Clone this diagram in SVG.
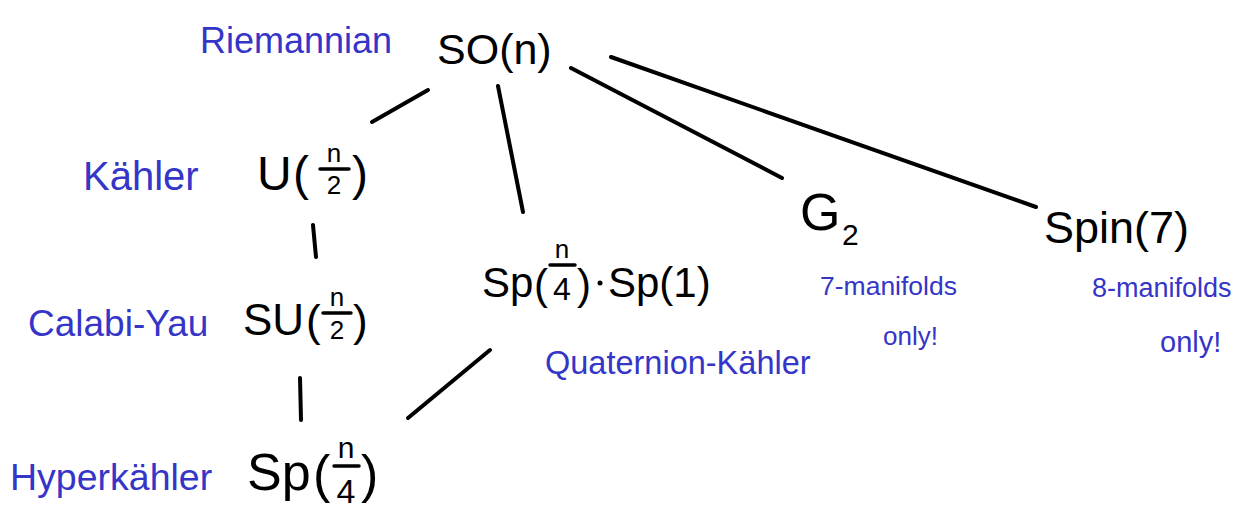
<svg xmlns="http://www.w3.org/2000/svg" width="1244" height="525" viewBox="0 0 1244 525">
<style>
.b{font-family:"Liberation Sans",Arial,sans-serif;fill:#3535c8;}
.k{font-family:"Liberation Sans",Arial,sans-serif;fill:#000;}
.e{stroke:#000;stroke-width:4;stroke-linecap:round;fill:none;}
.bar{stroke:#000;stroke-width:3.5;stroke-linecap:round;}
</style>
<rect width="1244" height="525" fill="#fff"/>
<g id="connectors">
<line class="e" x1="372" y1="122" x2="428" y2="90"/>
<line class="e" x1="498" y1="86" x2="523" y2="212"/>
<line class="e" x1="571" y1="68" x2="782" y2="178"/>
<line class="e" x1="611" y1="57" x2="1036" y2="207"/>
<line class="e" x1="313" y1="225" x2="316" y2="257"/>
<line class="e" x1="300" y1="378" x2="301" y2="420"/>
<line class="e" x1="408" y1="418" x2="490" y2="350"/>
</g>
<g id="so">
<text class="b" x="200" y="53" font-size="36">Riemannian</text>
<text class="k" x="437" y="64" font-size="43">SO(n)</text>
</g>
<g id="u">
<text class="b" x="83" y="190" font-size="40">Kähler</text>
<text class="k" x="257" y="190" font-size="48">U</text>
<text class="k" x="293" y="190" font-size="48">(</text>
<text class="k" x="334" y="162" font-size="26" text-anchor="middle">n</text>
<line class="bar" x1="320" y1="169" x2="349" y2="169"/>
<text class="k" x="334" y="194" font-size="26" text-anchor="middle">2</text>
<text class="k" x="352" y="190" font-size="48">)</text>
</g>
<g id="su">
<text class="b" x="28" y="336" font-size="37">Calabi-Yau</text>
<text class="k" x="243" y="335" font-size="44">SU</text>
<text class="k" x="306" y="336" font-size="44">(</text>
<text class="k" x="337" y="306" font-size="26" text-anchor="middle">n</text>
<line class="bar" x1="323" y1="313" x2="351" y2="313"/>
<text class="k" x="337" y="339" font-size="26" text-anchor="middle">2</text>
<text class="k" x="353" y="336" font-size="44">)</text>
</g>
<g id="sp">
<text class="b" x="10" y="490" font-size="37.5">Hyperkähler</text>
<text class="k" x="247" y="490" font-size="52">Sp</text>
<text class="k" x="313" y="492" font-size="52">(</text>
<text class="k" x="346" y="458" font-size="30" text-anchor="middle">n</text>
<line class="bar" x1="334" y1="466" x2="359" y2="466"/>
<text class="k" x="346" y="503" font-size="34" text-anchor="middle">4</text>
<text class="k" x="361" y="492" font-size="52">)</text>
</g>
<g id="spsp">
<text class="k" x="482" y="297" font-size="42">Sp</text>
<text class="k" x="534" y="299" font-size="42">(</text>
<text class="k" x="562" y="258" font-size="26" text-anchor="middle">n</text>
<line class="bar" x1="550" y1="265" x2="575" y2="265"/>
<text class="k" x="562" y="300" font-size="32" text-anchor="middle">4</text>
<text class="k" x="577" y="299" font-size="42">)</text>
<circle cx="600" cy="283" r="2.5" fill="#000"/>
<text class="k" x="608" y="297" font-size="42">Sp(1)</text>
<text class="b" x="545" y="374" font-size="32.5">Quaternion-Kähler</text>
</g>
<g id="g2">
<text class="k" x="800" y="230" font-size="52">G</text>
<text class="k" x="842" y="245" font-size="30">2</text>
<text class="b" x="820" y="295" font-size="26.5">7-manifolds</text>
<text class="b" x="883" y="345" font-size="26">only!</text>
</g>
<g id="spin7">
<text class="k" x="1044" y="243" font-size="45">Spin(7)</text>
<text class="b" x="1092" y="297" font-size="27">8-manifolds</text>
<text class="b" x="1160" y="352" font-size="29">only!</text>
</g>
</svg>
